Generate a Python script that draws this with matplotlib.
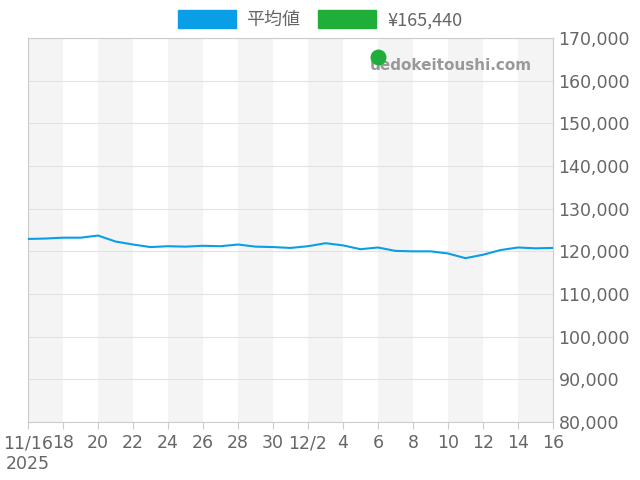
import numpy as np
import matplotlib.pyplot as plt
from matplotlib.patches import Patch

avg = [122.9, 123.0, 123.2, 123.2, 123.7, 122.3, 121.6, 121.0, 121.2, 121.1,
       121.3, 121.2, 121.6, 121.1, 121.0, 120.8, 121.2, 121.9, 121.4, 120.5,
       120.9, 120.1, 120.0, 120.0, 119.5, 118.4, 119.2, 120.3, 120.9, 120.7, 120.8]
avg = [v * 1000 for v in avg]
point_day = 20
point_val = 165440
tick_days = list(range(0, 31, 2))
tick_labels = ['11/16\n2025', '18', '20', '22', '24', '26', '28', '30', '12/2',
               '4', '6', '8', '10', '12', '14', '16']

fig = plt.figure(figsize=(6.4, 4.8), dpi=100)
ax = fig.add_axes([28/640, 58/480, 525/640, 384/480])
days = np.arange(len(avg))
for d in range(0, 30, 4):
    ax.axvspan(d, d + 2, color='#f4f4f4', lw=0, zorder=0)
ax.plot(days, avg, color='#0a9ee6', lw=1.5, zorder=3)
ax.scatter([point_day], [point_val], s=110, color='#1fae3a', zorder=4)
ax.set_xlim(0, 30)
ax.set_ylim(80000, 170000)
ax.yaxis.tick_right()
yt = np.arange(80000, 170001, 10000)
ax.set_yticks(yt)
ax.set_yticklabels([f'{v:,}' for v in yt])
ax.set_xticks(tick_days)
ax.set_xticklabels(tick_labels)
ax.grid(axis='y', color='#e2e2e2', lw=0.8, zorder=1)
ax.tick_params(colors='#666666', labelsize=12.5, length=0, pad=4)
ax.tick_params(axis='x', length=5, color='#cccccc')
for s in ax.spines.values():
    s.set_color('#cccccc')
ax.text(0.96, 0.928, 'uedokeitoushi.com', transform=ax.transAxes, ha='right',
        va='center', fontsize=11, fontweight='bold', color='#999999')
handles = [Patch(color='#0a9ee6', label='平均値'), Patch(color='#1fae3a', label='¥165,440')]
fig.legend(handles=handles, loc='upper center', bbox_to_anchor=(0.5, 1.012), ncol=2,
           frameon=False, handlelength=3.2, handleheight=1.1, handletextpad=0.6,
           columnspacing=1.0, labelcolor='#666666',
           prop={'family': ['Noto Sans CJK JP', 'DejaVu Sans'], 'size': 13})
fig.savefig('out.png')
